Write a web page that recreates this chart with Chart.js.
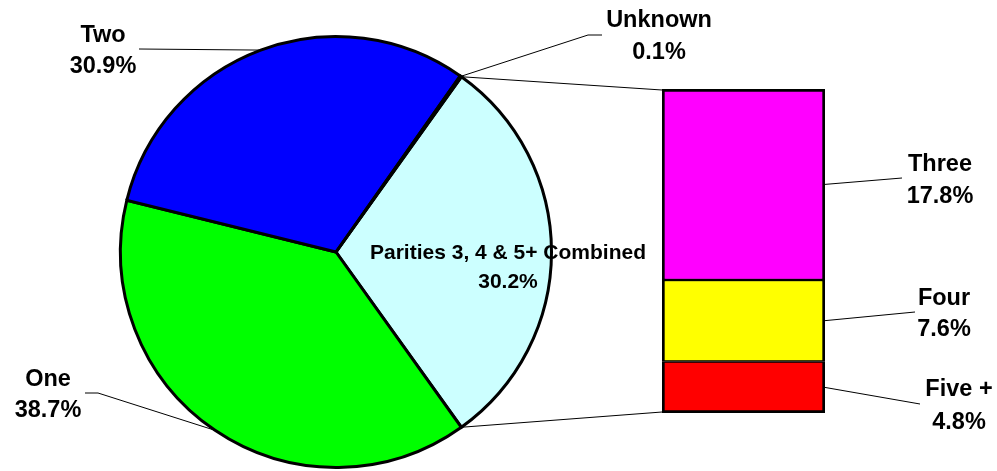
<!DOCTYPE html>
<html><head><meta charset="utf-8">
<script src="https://cdn.jsdelivr.net/npm/chart.js@4.4.1/dist/chart.umd.min.js"></script>
<style>
html,body{margin:0;padding:0;background:#fff;}
#wrap{position:relative;width:997px;height:471px;}
canvas{position:absolute;left:0;top:0;}
</style>
</head><body>
<div id="wrap"><canvas id="pie" width="997" height="471"></canvas><canvas id="bar" width="997" height="471"></canvas></div>
<script>
// ---- data ----
const pieCategories = ['Parities 3, 4 & 5+ Combined', 'One', 'Two', 'Unknown'];
const pieValues = [30.2, 38.7, 30.9, 0.1];
const pieColors = ['#CCFFFF', '#00FF00', '#0000FF', '#000000'];

const barCategories = ['Five +', 'Four', 'Three'];
const barValues = [4.8, 7.6, 17.8];
const barColors = ['#FF0000', '#FFFF00', '#FF00FF'];

// ---- label layout (positions only) ----
const pieLabelLayout = {
  'Parities 3, 4 & 5+ Combined': {x: 508, y1: 259, y2: 288, font: 21, path: null},
  'One':     {x: 48,  y1: 386, y2: 417, font: 23.5, path: [[85,393],[98,393]]},
  'Two':     {x: 103, y1: 42,  y2: 73,  font: 23.5, path: [[139,49]]},
  'Unknown': {x: 659, y1: 27,  y2: 59,  font: 23.5, path: [[602,35],[588,35]]}
};
const barLabelLayout = {
  'Three':  {x: 940, y1: 171, y2: 203, path: [[902,178]]},
  'Four':   {x: 944, y1: 305, y2: 336, path: [[915,312]]},
  'Five +': {x: 959, y1: 396, y2: 429, path: [[920,404]]}
};

const pieTotal = pieValues.reduce((a, b) => a + b, 0);
const barTotal = barValues.reduce((a, b) => a + b, 0);
const pieRotation = 90 - (pieValues[0] / pieTotal) * 180;
const pct = v => v.toFixed(1) + '%';
const FONT = s => 'bold ' + s + 'px "Liberation Sans", Arial, sans-serif';

const pieChart = new Chart(document.getElementById('pie'), {
  type: 'pie',
  data: {
    labels: pieCategories,
    datasets: [{
      data: pieValues,
      backgroundColor: pieColors,
      borderColor: '#000',
      borderWidth: 3,
      hoverBorderWidth: 3,
      hoverOffset: 0,
      offset: 0,
      borderJoinStyle: 'miter'
    }]
  },
  options: {
    responsive: false,
    animation: false,
    events: [],
    rotation: pieRotation,
    layout: {padding: {left: 119, right: 444, top: 35, bottom: 2}},
    plugins: {legend: {display: false}, tooltip: {enabled: false}}
  }
});

const annotate = {
  id: 'annotate',
  afterDraw(chart) {
    const ctx = chart.ctx;
    const arcs = pieChart.getDatasetMeta(0).data;
    const cx = arcs[0].x, cy = arcs[0].y, r = arcs[0].outerRadius;
    const pt = a => [cx + r * Math.cos(a), cy + r * Math.sin(a)];

    ctx.save();
    ctx.strokeStyle = '#000';
    ctx.lineWidth = 1;

    // connectors from combined slice to bar
    const topEl = chart.getDatasetMeta(barCategories.length - 1).data[0];
    const botEl = chart.getDatasetMeta(0).data[0];
    const pA = pt(arcs[0].startAngle), pB = pt(arcs[0].endAngle);
    ctx.beginPath();
    ctx.moveTo(pA[0], pA[1]); ctx.lineTo(topEl.x - topEl.width / 2, topEl.y + 1);
    ctx.moveTo(pB[0], pB[1]); ctx.lineTo(botEl.x - botEl.width / 2, botEl.base - 1);
    ctx.stroke();

    ctx.fillStyle = '#000';
    ctx.textAlign = 'center';
    ctx.textBaseline = 'alphabetic';

    // pie labels
    pieCategories.forEach((name, i) => {
      const L = pieLabelLayout[name];
      if (L.path) {
        const mid = (arcs[i].startAngle + arcs[i].endAngle) / 2;
        const e = pt(mid);
        ctx.beginPath();
        ctx.moveTo(L.path[0][0], L.path[0][1]);
        for (let k = 1; k < L.path.length; k++) ctx.lineTo(L.path[k][0], L.path[k][1]);
        ctx.lineTo(e[0], e[1]);
        ctx.stroke();
      }
      ctx.font = FONT(L.font);
      ctx.fillText(name, L.x, L.y1);
      ctx.fillText(pct(pieValues[i]), L.x, L.y2);
    });

    // bar labels
    ctx.font = FONT(23.5);
    barCategories.forEach((name, i) => {
      const L = barLabelLayout[name];
      const el = chart.getDatasetMeta(i).data[0];
      const sx = el.x + el.width / 2 - 1, sy = (el.y + el.base) / 2;
      ctx.beginPath();
      ctx.moveTo(sx, sy);
      L.path.forEach(p => ctx.lineTo(p[0], p[1]));
      ctx.stroke();
      ctx.fillText(name, L.x, L.y1);
      ctx.fillText(pct(barValues[i]), L.x, L.y2);
    });
    ctx.restore();
  }
};

const outer = 3, inner = 1.5;
const barBorders = [
  {top: inner, right: outer, bottom: outer, left: outer},
  {top: inner, right: outer, bottom: inner, left: outer},
  {top: outer, right: outer, bottom: inner, left: outer}
];

const barChart = new Chart(document.getElementById('bar'), {
  type: 'bar',
  data: {
    labels: [''],
    datasets: barCategories.map((c, i) => ({
      label: c,
      data: [barValues[i]],
      backgroundColor: barColors[i],
      borderColor: '#000',
      borderWidth: barBorders[i],
      borderSkipped: false,
      barPercentage: 1,
      categoryPercentage: 1
    }))
  },
  options: {
    responsive: false,
    animation: false,
    events: [],
    layout: {padding: {left: 662, right: 172, top: 89, bottom: 58}},
    scales: {
      x: {display: false, stacked: true},
      y: {display: false, stacked: true, min: 0, max: barTotal}
    },
    plugins: {legend: {display: false}, tooltip: {enabled: false}}
  },
  plugins: [annotate]
});
</script>
</body></html>
